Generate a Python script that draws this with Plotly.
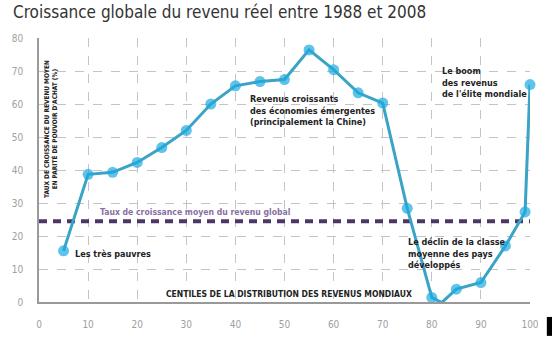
import plotly.graph_objects as go

centiles = [5, 10, 15, 20, 25, 30, 35, 40, 45, 50, 55, 60, 65, 70, 75, 80, 82, 85, 90, 95, 99, 100]
growth = [15.5, 38.7, 39.3, 42.3, 46.8, 52.0, 60.0, 65.5, 66.8, 67.4, 76.4, 70.4, 63.4, 60.3, 28.4, 1.4, -0.2, 3.9, 5.9, 17.0, 27.3, 65.9]
marker_sizes = [11 if c != 82 else 0 for c in centiles]
average_growth = 24.5

x_ticks = [0, 10, 20, 30, 40, 50, 60, 70, 80, 90, 100]
y_ticks = [0, 10, 20, 30, 40, 50, 60, 70, 80]

FONT = "Liberation Sans Narrow, DejaVu Sans Condensed, Roboto Condensed, Roboto, sans-serif"

fig = go.Figure()

fig.add_trace(go.Scatter(
    x=[0, 100], y=[average_growth, average_growth], mode="lines",
    line=dict(color="#4e3766", width=4, dash="8px,6px"),
    hoverinfo="skip", showlegend=False, cliponaxis=False,
))

fig.add_trace(go.Scatter(
    x=centiles, y=growth, mode="lines+markers",
    line=dict(color="#3aa3c6", width=3),
    marker=dict(color="#1ca9df", size=marker_sizes, line=dict(width=0)),
    showlegend=False, cliponaxis=False,
))

ann_font = dict(family=FONT, size=9, color="#222222")
annotations = [
    dict(x=6.9, y=14.5, text="<b>Les très pauvres</b>", xanchor="left", yanchor="middle", font=ann_font),
    dict(x=12.1, y=27.3, text="<b>Taux de croissance moyen du revenu global</b>", xanchor="left",
         yanchor="middle", font=dict(family=FONT, size=8.6, color="#8a6fa3")),
    dict(x=42.6, y=58.0, text="<b>Revenus croissants<br>des économies émergentes<br>(principalement la Chine)</b>",
         xanchor="left", yanchor="middle", align="left", font=ann_font),
    dict(x=81.6, y=66.5, text="<b>Le boom<br>des revenus<br>de l'élite mondiale</b>",
         xanchor="left", yanchor="middle", align="left", font=ann_font),
    dict(x=74.8, y=14.6, text="<b>Le déclin de la classe<br>moyenne des pays<br>développés</b>",
         xanchor="left", yanchor="middle", align="left", font=ann_font),
    dict(x=25.4, y=2.3, text="<b>CENTILES DE LA DISTRIBUTION DES REVENUS MONDIAUX</b>",
         xanchor="left", yanchor="middle", font=dict(family=FONT, size=8.5, color="#222222")),
    dict(x=2.3, y=52.5, text="<b>TAUX DE CROISSANCE DU REVENU MOYEN<br>EN PARITÉ DE POUVOIR D'ACHAT (%)</b>",
         textangle=-90, xanchor="center", yanchor="middle", align="center",
         font=dict(family=FONT, size=6.5, color="#222222")),
]
for a in annotations:
    a["showarrow"] = False
    a["xref"] = "x"
    a["yref"] = "y"

fig.update_layout(
    width=552, height=342,
    margin=dict(l=34, r=22, t=38, b=39),
    paper_bgcolor="white", plot_bgcolor="white",
    title=dict(text="Croissance globale du revenu réel entre 1988 et 2008",
               x=13 / 552, xanchor="left", y=1 - 12 / 342, yanchor="middle",
               font=dict(family=FONT, size=17, color="#333333")),
    annotations=annotations,
    shapes=[dict(type="rect", xref="paper", yref="paper",
                 x0=(547 - 34) / 496, x1=(553 - 34) / 496,
                 y0=-(318 - 303) / 265, y1=-(337 - 303) / 265,
                 fillcolor="black", line=dict(width=0))],
)

fig.update_xaxes(
    range=[0, 100], tickvals=x_ticks, ticktext=[str(v) for v in x_ticks],
    showgrid=True, gridcolor="#c4c4c4", griddash="dash", gridwidth=1,
    showline=True, linecolor="#999999", linewidth=1.5,
    ticks="", ticklabelstandoff=12, zeroline=False,
    tickfont=dict(family=FONT, size=10, color="#a0a0a0"),
)
fig.update_yaxes(
    range=[0, 80], tickvals=y_ticks, ticktext=[str(v) for v in y_ticks],
    showgrid=True, gridcolor="#c4c4c4", griddash="dash", gridwidth=1,
    showline=True, linecolor="#999999", linewidth=1.5,
    ticks="", ticklabelstandoff=12, zeroline=False,
    tickfont=dict(family=FONT, size=10, color="#a0a0a0"),
)

fig.write_html("out.html")
